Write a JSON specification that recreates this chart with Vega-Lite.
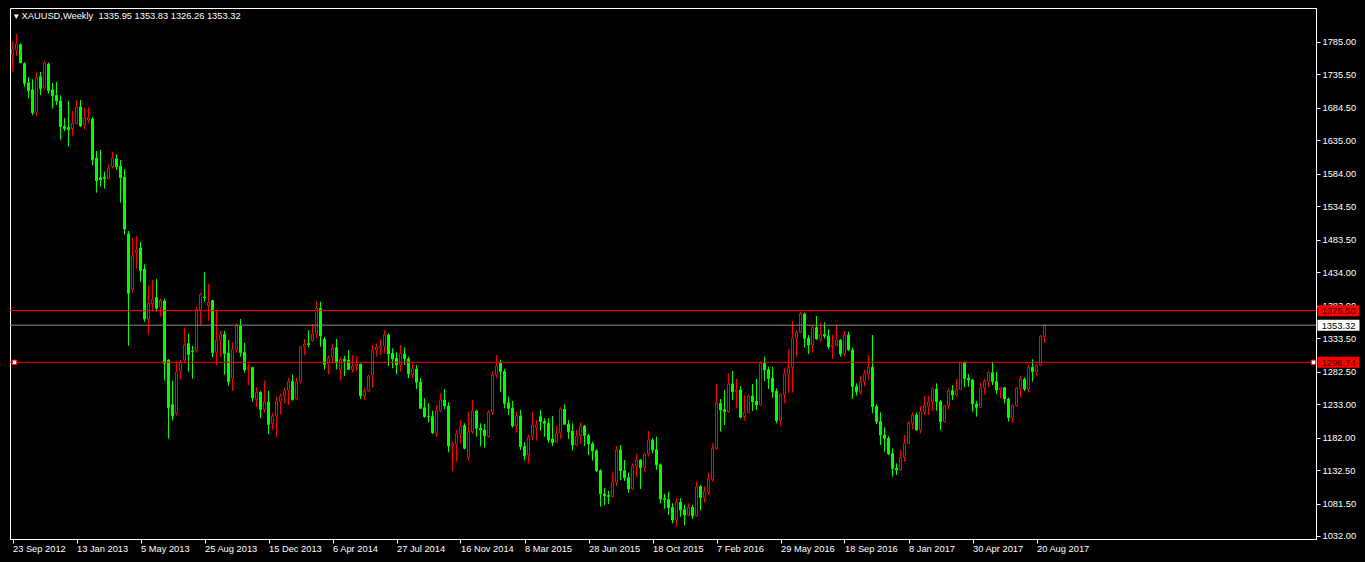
{
"$schema": "https://vega.github.io/schema/vega-lite/v6.json",
"width": 1306,
"height": 531,
"autosize": {"type": "none"},
"padding": {"left": 10, "top": 8, "right": 49, "bottom": 23},
"background": "#000000",
"title": {"text": "▾ XAUUSD,Weekly\u00a0\u00a01335.95 1353.83 1326.26 1353.32", "anchor": "start", "frame": "group", "orient": "top", "offset": -11, "baseline": "alphabetic", "dx": 4, "dy": 9, "font": "Liberation Sans", "fontSize": 9.3, "fontWeight": "normal", "color": "#FFFFFF"},
"config": {
  "view": {"stroke": "#FFFFFF", "strokeWidth": 1, "fill": "#000000"},
  "axis": {"grid": false, "domainColor": "#FFFFFF", "tickColor": "#FFFFFF", "labelColor": "#FFFFFF", "labelFont": "Liberation Sans", "labelFontSize": 9.3, "tickSize": 4, "labelOverlap": false, "labelFlush": false, "labelBound": false, "domainWidth": 1, "tickWidth": 1}
},
"datasets": {
"candles": [
{"date":"2012-09-23","open":1765.2,"high":1785.5,"low":1740,"close":1774.3},
{"date":"2012-09-30","open":1773,"high":1797.2,"low":1763.7,"close":1782},
{"date":"2012-10-07","open":1781,"high":1783,"low":1752.5,"close":1753.5},
{"date":"2012-10-14","open":1752,"high":1754,"low":1717,"close":1722},
{"date":"2012-10-21","open":1723,"high":1731.7,"low":1698.6,"close":1710.8},
{"date":"2012-10-28","open":1712,"high":1728.1,"low":1673.7,"close":1677.3},
{"date":"2012-11-04","open":1678,"high":1738.8,"low":1672.7,"close":1731.1},
{"date":"2012-11-11","open":1732,"high":1739.3,"low":1704.2,"close":1713.9},
{"date":"2012-11-18","open":1715,"high":1756,"low":1713,"close":1753},
{"date":"2012-11-25","open":1751.5,"high":1753.5,"low":1706.3,"close":1710.8},
{"date":"2012-12-02","open":1712,"high":1722.5,"low":1683.4,"close":1703.2},
{"date":"2012-12-09","open":1703.5,"high":1724,"low":1689,"close":1695.1},
{"date":"2012-12-16","open":1695.1,"high":1703.7,"low":1636.1,"close":1656},
{"date":"2012-12-23","open":1656.5,"high":1668.7,"low":1649.3,"close":1652.9},
{"date":"2012-12-30","open":1655,"high":1695.1,"low":1625.5,"close":1651.4},
{"date":"2013-01-06","open":1653,"high":1679.8,"low":1642.2,"close":1661},
{"date":"2013-01-13","open":1660.5,"high":1696.6,"low":1659.5,"close":1685.4},
{"date":"2013-01-20","open":1686,"high":1696.6,"low":1655.4,"close":1657},
{"date":"2013-01-27","open":1659.5,"high":1684.4,"low":1651.4,"close":1669.2},
{"date":"2013-02-03","open":1666.1,"high":1685.4,"low":1661,"close":1669.2},
{"date":"2013-02-10","open":1667.6,"high":1670.7,"low":1597.5,"close":1605.6},
{"date":"2013-02-17","open":1608,"high":1618.9,"low":1555.3,"close":1573.6},
{"date":"2013-02-24","open":1578,"high":1620.4,"low":1564.5,"close":1574.7},
{"date":"2013-03-03","open":1579,"high":1587.4,"low":1561.4,"close":1576.5},
{"date":"2013-03-10","open":1577,"high":1598.5,"low":1575,"close":1592.9},
{"date":"2013-03-17","open":1595,"high":1617.3,"low":1591.9,"close":1608.2},
{"date":"2013-03-24","open":1607,"high":1613.8,"low":1589.9,"close":1595},
{"date":"2013-03-31","open":1596,"high":1605.1,"low":1540.1,"close":1578.2},
{"date":"2013-04-07","open":1579.2,"high":1591.4,"low":1491.3,"close":1500},
{"date":"2013-04-14","open":1492.3,"high":1496.9,"low":1322.1,"close":1401.9},
{"date":"2013-04-21","open":1408,"high":1486.3,"low":1402.9,"close":1458.8},
{"date":"2013-04-28","open":1463.9,"high":1489.3,"low":1439.5,"close":1468},
{"date":"2013-05-05","open":1471,"high":1480.2,"low":1419.7,"close":1436.5},
{"date":"2013-05-12","open":1439,"high":1446.1,"low":1358.7,"close":1362.8},
{"date":"2013-05-19","open":1362,"high":1413.6,"low":1338.9,"close":1386.7},
{"date":"2013-05-26","open":1385.7,"high":1422.2,"low":1374,"close":1392.8},
{"date":"2013-06-02","open":1395.3,"high":1423.7,"low":1374,"close":1379.1},
{"date":"2013-06-09","open":1381,"high":1394.3,"low":1366.3,"close":1390.7},
{"date":"2013-06-16","open":1390.2,"high":1393.8,"low":1268.8,"close":1295.2},
{"date":"2013-06-23","open":1300.3,"high":1301.3,"low":1180.4,"close":1227.6},
{"date":"2013-06-30","open":1232,"high":1268.8,"low":1207.8,"close":1215.4},
{"date":"2013-07-07","open":1219,"high":1298.8,"low":1215.4,"close":1282},
{"date":"2013-07-14","open":1283,"high":1300.3,"low":1270.8,"close":1297.2},
{"date":"2013-07-21","open":1300,"high":1349.6,"low":1296,"close":1323.1},
{"date":"2013-07-28","open":1325,"high":1340.4,"low":1282.5,"close":1308.9},
{"date":"2013-08-04","open":1314,"high":1321.6,"low":1271.8,"close":1313},
{"date":"2013-08-11","open":1314,"high":1381.1,"low":1311,"close":1377.5},
{"date":"2013-08-18","open":1376.5,"high":1402.9,"low":1353.1,"close":1400.4},
{"date":"2013-08-25","open":1396.3,"high":1434.4,"low":1389.2,"close":1395.3},
{"date":"2013-09-01","open":1383,"high":1416.1,"low":1360.2,"close":1388.2},
{"date":"2013-09-08","open":1390.7,"high":1391.7,"low":1304.3,"close":1311.5},
{"date":"2013-09-15","open":1312,"high":1376.5,"low":1292.2,"close":1330.3},
{"date":"2013-09-22","open":1330.3,"high":1344.5,"low":1305.4,"close":1339.4},
{"date":"2013-09-29","open":1339,"high":1344.5,"low":1277.9,"close":1309.9},
{"date":"2013-10-06","open":1311,"high":1330.8,"low":1261.2,"close":1267.2},
{"date":"2013-10-13","open":1272.3,"high":1327.2,"low":1253,"close":1316.6},
{"date":"2013-10-20","open":1316,"high":1356.2,"low":1311.5,"close":1353.1},
{"date":"2013-10-27","open":1352,"high":1362.8,"low":1305.4,"close":1311.5},
{"date":"2013-11-03","open":1312,"high":1326.2,"low":1281,"close":1285},
{"date":"2013-11-10","open":1287.6,"high":1294.2,"low":1261.7,"close":1289.1},
{"date":"2013-11-17","open":1288.6,"high":1290.1,"low":1236.8,"close":1242.9},
{"date":"2013-11-24","open":1240.3,"high":1259.1,"low":1228.1,"close":1251},
{"date":"2013-12-01","open":1251,"high":1253,"low":1211.4,"close":1224.6},
{"date":"2013-12-08","open":1225,"high":1268.8,"low":1220,"close":1236.3},
{"date":"2013-12-15","open":1236.3,"high":1253,"low":1187,"close":1202.2},
{"date":"2013-12-22","open":1203.7,"high":1220,"low":1193.6,"close":1214.9},
{"date":"2013-12-29","open":1214.9,"high":1244.4,"low":1182.4,"close":1237.8},
{"date":"2014-01-05","open":1237,"high":1249.5,"low":1217.5,"close":1245.4},
{"date":"2014-01-12","open":1246,"high":1258.1,"low":1234.2,"close":1253.5},
{"date":"2014-01-19","open":1254,"high":1273.3,"low":1231.7,"close":1267.2},
{"date":"2014-01-26","open":1268,"high":1277.9,"low":1238.3,"close":1239.8},
{"date":"2014-02-02","open":1241,"high":1273.3,"low":1239.8,"close":1267.2},
{"date":"2014-02-09","open":1267.2,"high":1321.6,"low":1264.7,"close":1320.1},
{"date":"2014-02-16","open":1321,"high":1332.3,"low":1307.4,"close":1324.7},
{"date":"2014-02-23","open":1325.2,"high":1346,"low":1319.1,"close":1324},
{"date":"2014-03-02","open":1330,"high":1355.2,"low":1328.2,"close":1339.5},
{"date":"2014-03-09","open":1339.5,"high":1389.2,"low":1333,"close":1379.1},
{"date":"2014-03-16","open":1379,"high":1389.2,"low":1320.6,"close":1336.9},
{"date":"2014-03-23","open":1332,"high":1335.3,"low":1286.1,"close":1293.7},
{"date":"2014-03-30","open":1294,"high":1307.4,"low":1278.4,"close":1303.3},
{"date":"2014-04-06","open":1304.3,"high":1324.7,"low":1295.2,"close":1318.1},
{"date":"2014-04-13","open":1319,"high":1332.3,"low":1286.1,"close":1296.2},
{"date":"2014-04-20","open":1286,"high":1304.3,"low":1268.8,"close":1301.3},
{"date":"2014-04-27","open":1301.5,"high":1306.4,"low":1275.9,"close":1298.8},
{"date":"2014-05-04","open":1300,"high":1315.5,"low":1285,"close":1286.1},
{"date":"2014-05-11","open":1286,"high":1307.9,"low":1281,"close":1291.1},
{"date":"2014-05-18","open":1291,"high":1306,"low":1284,"close":1294},
{"date":"2014-05-25","open":1293.5,"high":1295,"low":1240.8,"close":1245.4},
{"date":"2014-06-01","open":1245.4,"high":1257.1,"low":1239.3,"close":1253},
{"date":"2014-06-08","open":1253.6,"high":1277.4,"low":1252,"close":1275.9},
{"date":"2014-06-15","open":1277.4,"high":1323.2,"low":1257.6,"close":1315.5},
{"date":"2014-06-22","open":1315,"high":1325.7,"low":1305.4,"close":1320},
{"date":"2014-06-29","open":1317,"high":1331.8,"low":1307.9,"close":1321.6},
{"date":"2014-07-06","open":1321,"high":1346,"low":1310.5,"close":1338.4},
{"date":"2014-07-13","open":1338.4,"high":1340.9,"low":1291.2,"close":1309.4},
{"date":"2014-07-20","open":1310.5,"high":1318.1,"low":1287.6,"close":1301.8},
{"date":"2014-07-27","open":1303,"high":1312,"low":1279,"close":1292.7},
{"date":"2014-08-03","open":1292.7,"high":1323.2,"low":1282.5,"close":1310.5},
{"date":"2014-08-10","open":1309.4,"high":1319.6,"low":1292.7,"close":1302.8},
{"date":"2014-08-17","open":1301.8,"high":1305.4,"low":1272.4,"close":1279},
{"date":"2014-08-24","open":1278,"high":1295.2,"low":1272.4,"close":1287.6},
{"date":"2014-08-31","open":1286.6,"high":1292.7,"low":1256.1,"close":1266.3},
{"date":"2014-09-07","open":1266.3,"high":1272.4,"low":1226,"close":1226.6},
{"date":"2014-09-14","open":1227.5,"high":1241.9,"low":1212.4,"close":1213.9},
{"date":"2014-09-21","open":1214.5,"high":1234.2,"low":1205.3,"close":1213.4},
{"date":"2014-09-28","open":1214,"high":1223.1,"low":1187.5,"close":1189.5},
{"date":"2014-10-05","open":1190,"high":1231.7,"low":1183.4,"close":1222.6},
{"date":"2014-10-12","open":1222.6,"high":1249.5,"low":1221.5,"close":1239.3},
{"date":"2014-10-19","open":1239,"high":1256.1,"low":1225.1,"close":1230.2},
{"date":"2014-10-26","open":1230,"high":1235.8,"low":1159.6,"close":1169.2},
{"date":"2014-11-02","open":1169,"high":1175.8,"low":1131.1,"close":1172.3},
{"date":"2014-11-09","open":1172,"high":1193.6,"low":1145.3,"close":1188.5},
{"date":"2014-11-16","open":1188,"high":1208.8,"low":1173.3,"close":1199.7},
{"date":"2014-11-23","open":1200,"high":1203.8,"low":1164.1,"close":1165.7},
{"date":"2014-11-30","open":1152,"high":1221.5,"low":1146.9,"close":1191.1},
{"date":"2014-12-07","open":1191,"high":1239.3,"low":1187.5,"close":1222.6},
{"date":"2014-12-14","open":1222.6,"high":1224.1,"low":1183.4,"close":1196.1},
{"date":"2014-12-21","open":1196,"high":1203.8,"low":1169.2,"close":1193.6},
{"date":"2014-12-28","open":1193.6,"high":1202.7,"low":1166.7,"close":1184.5},
{"date":"2015-01-04","open":1183.4,"high":1223.1,"low":1182.4,"close":1220.5},
{"date":"2015-01-11","open":1221,"high":1282.5,"low":1216.5,"close":1277.4},
{"date":"2015-01-18","open":1277.4,"high":1307.9,"low":1272.4,"close":1291.2},
{"date":"2015-01-25","open":1295,"high":1300.3,"low":1252,"close":1282.5},
{"date":"2015-02-01","open":1282.5,"high":1286.6,"low":1226.6,"close":1234.2},
{"date":"2015-02-08","open":1235,"high":1244.4,"low":1216.5,"close":1226.6},
{"date":"2015-02-15","open":1227,"high":1237.8,"low":1197.2,"close":1199.7},
{"date":"2015-02-22","open":1200,"high":1221.5,"low":1189.5,"close":1214.9},
{"date":"2015-03-01","open":1214.9,"high":1224.1,"low":1163.1,"close":1168.2},
{"date":"2015-03-08","open":1168.5,"high":1174.8,"low":1146.9,"close":1154.5},
{"date":"2015-03-15","open":1155.5,"high":1186,"low":1142.8,"close":1182.4},
{"date":"2015-03-22","open":1183,"high":1221.5,"low":1178.4,"close":1201.2},
{"date":"2015-03-29","open":1197.2,"high":1208.8,"low":1177.3,"close":1201.5},
{"date":"2015-04-05","open":1214,"high":1224.1,"low":1192.6,"close":1206.3},
{"date":"2015-04-12","open":1206.5,"high":1211.4,"low":1183.4,"close":1203.8},
{"date":"2015-04-19","open":1204,"high":1211.4,"low":1174.3,"close":1178.4},
{"date":"2015-04-26","open":1179.9,"high":1214.9,"low":1169.2,"close":1174.3},
{"date":"2015-05-03","open":1175,"high":1199.7,"low":1174,"close":1188.5},
{"date":"2015-05-10","open":1188.5,"high":1228.1,"low":1179.4,"close":1225.6},
{"date":"2015-05-17","open":1225,"high":1232.7,"low":1201.2,"close":1202.2},
{"date":"2015-05-24","open":1202.5,"high":1208.8,"low":1179.9,"close":1191.1},
{"date":"2015-05-31","open":1192,"high":1203.8,"low":1162.1,"close":1170.7},
{"date":"2015-06-07","open":1170.7,"high":1193.6,"low":1169.2,"close":1184.5},
{"date":"2015-06-14","open":1184.5,"high":1205.3,"low":1172.3,"close":1199.7},
{"date":"2015-06-21","open":1199.7,"high":1201.2,"low":1169.2,"close":1185},
{"date":"2015-06-28","open":1185,"high":1187.5,"low":1155.5,"close":1172.3},
{"date":"2015-07-05","open":1172.5,"high":1175.8,"low":1146.9,"close":1161.6},
{"date":"2015-07-12","open":1162,"high":1164.1,"low":1130.1,"close":1131.1},
{"date":"2015-07-19","open":1131.5,"high":1133.6,"low":1076.7,"close":1096},
{"date":"2015-07-26","open":1096,"high":1104.7,"low":1079.3,"close":1093.5},
{"date":"2015-08-02","open":1093.5,"high":1100.6,"low":1080.8,"close":1092},
{"date":"2015-08-09","open":1092,"high":1128.6,"low":1091,"close":1113.8},
{"date":"2015-08-16","open":1114,"high":1169.2,"low":1108.2,"close":1163.1},
{"date":"2015-08-23","open":1163.1,"high":1170.7,"low":1117.4,"close":1131.1},
{"date":"2015-08-30","open":1131.5,"high":1147.9,"low":1115.9,"close":1120.9},
{"date":"2015-09-06","open":1121,"high":1128.6,"low":1098.1,"close":1103.7},
{"date":"2015-09-13","open":1103.7,"high":1142.8,"low":1102.1,"close":1138.7},
{"date":"2015-09-20","open":1138.7,"high":1157,"low":1120.9,"close":1147.9},
{"date":"2015-09-27","open":1147.9,"high":1149.4,"low":1103.7,"close":1136.2},
{"date":"2015-10-04","open":1136.7,"high":1159,"low":1130.1,"close":1157},
{"date":"2015-10-11","open":1157,"high":1192.1,"low":1152.9,"close":1178.4},
{"date":"2015-10-18","open":1178.4,"high":1180.9,"low":1158,"close":1163.1},
{"date":"2015-10-25","open":1163.5,"high":1183.4,"low":1132.6,"close":1140.3},
{"date":"2015-11-01","open":1140.5,"high":1142.8,"low":1081.8,"close":1088.4},
{"date":"2015-11-08","open":1089,"high":1096,"low":1073.2,"close":1087.5},
{"date":"2015-11-15","open":1087.5,"high":1099.6,"low":1064,"close":1075.2},
{"date":"2015-11-22","open":1075.5,"high":1081.8,"low":1051.3,"close":1056.4},
{"date":"2015-11-29","open":1056.5,"high":1089.4,"low":1046.3,"close":1083.3},
{"date":"2015-12-06","open":1083.3,"high":1089.4,"low":1061.5,"close":1071.7},
{"date":"2015-12-13","open":1072,"high":1079.3,"low":1048.3,"close":1064},
{"date":"2015-12-20","open":1064,"high":1081.8,"low":1062.5,"close":1075.7},
{"date":"2015-12-27","open":1075.7,"high":1079.3,"low":1057.9,"close":1063},
{"date":"2016-01-03","open":1063,"high":1114.8,"low":1061.5,"close":1107.2},
{"date":"2016-01-10","open":1107.2,"high":1109.8,"low":1070.6,"close":1090.5},
{"date":"2016-01-17","open":1090.5,"high":1107.2,"low":1082.8,"close":1099.6},
{"date":"2016-01-24","open":1099,"high":1128.6,"low":1094.5,"close":1118.9},
{"date":"2016-01-31","open":1118.5,"high":1173.3,"low":1114.8,"close":1165.7},
{"date":"2016-02-07","open":1165.6,"high":1263.7,"low":1163.1,"close":1234.2},
{"date":"2016-02-14","open":1234.2,"high":1240.8,"low":1191,"close":1224},
{"date":"2016-02-21","open":1224.5,"high":1254.5,"low":1201.2,"close":1221.5},
{"date":"2016-02-28","open":1221.5,"high":1279.9,"low":1220,"close":1263.7},
{"date":"2016-03-06","open":1263.7,"high":1283.5,"low":1239.3,"close":1252},
{"date":"2016-03-13","open":1252,"high":1271.3,"low":1226.6,"close":1254.5},
{"date":"2016-03-20","open":1254.5,"high":1260.6,"low":1211.3,"close":1212.9},
{"date":"2016-03-27","open":1213.9,"high":1245.9,"low":1207.8,"close":1220.5},
{"date":"2016-04-03","open":1220.5,"high":1247.9,"low":1219,"close":1245.4},
{"date":"2016-04-10","open":1245.4,"high":1263.7,"low":1222.5,"close":1236.7},
{"date":"2016-04-17","open":1237.5,"high":1271.3,"low":1224,"close":1231.7},
{"date":"2016-04-24","open":1231.7,"high":1297.7,"low":1230.6,"close":1295.2},
{"date":"2016-05-01","open":1295.2,"high":1305.3,"low":1268.2,"close":1285},
{"date":"2016-05-08","open":1285.5,"high":1290.1,"low":1256,"close":1272.3},
{"date":"2016-05-15","open":1272.5,"high":1290.1,"low":1242.8,"close":1252},
{"date":"2016-05-22","open":1252.5,"high":1257.1,"low":1203.7,"close":1207.8},
{"date":"2016-05-29","open":1207.8,"high":1249.4,"low":1199.6,"close":1247.9},
{"date":"2016-06-05","open":1247.5,"high":1287.5,"low":1234.2,"close":1278.9},
{"date":"2016-06-12","open":1278.5,"high":1316.5,"low":1250.5,"close":1289.1},
{"date":"2016-06-19","open":1289.1,"high":1359.7,"low":1250.5,"close":1333.3},
{"date":"2016-06-26","open":1333.3,"high":1346,"low":1305.3,"close":1342.4},
{"date":"2016-07-03","open":1342.4,"high":1373.9,"low":1340.9,"close":1370.4},
{"date":"2016-07-10","open":1370.4,"high":1372.4,"low":1319,"close":1333.3},
{"date":"2016-07-17","open":1333.5,"high":1338.3,"low":1309.4,"close":1323.1},
{"date":"2016-07-24","open":1323.1,"high":1353.6,"low":1311.4,"close":1349.5},
{"date":"2016-07-31","open":1349.5,"high":1367.3,"low":1330.7,"close":1332.3},
{"date":"2016-08-07","open":1332.3,"high":1357.7,"low":1328.2,"close":1339.4},
{"date":"2016-08-14","open":1339.4,"high":1357.7,"low":1333.3,"close":1336.8},
{"date":"2016-08-21","open":1337,"high":1347,"low":1317,"close":1320.6},
{"date":"2016-08-28","open":1320.6,"high":1338.3,"low":1301.8,"close":1323.1},
{"date":"2016-09-04","open":1323,"high":1353.6,"low":1320.6,"close":1330.7},
{"date":"2016-09-11","open":1330.7,"high":1331.7,"low":1305.3,"close":1309.4},
{"date":"2016-09-18","open":1309.4,"high":1344.4,"low":1306.3,"close":1338.3},
{"date":"2016-09-25","open":1338.3,"high":1343.4,"low":1314.5,"close":1315.5},
{"date":"2016-10-02","open":1315.5,"high":1319,"low":1240.8,"close":1259.6},
{"date":"2016-10-09","open":1259.6,"high":1264.7,"low":1245.9,"close":1252},
{"date":"2016-10-16","open":1252,"high":1275.9,"low":1247.9,"close":1267.2},
{"date":"2016-10-23","open":1267,"high":1285,"low":1259.6,"close":1278.9},
{"date":"2016-10-30","open":1278.9,"high":1307.9,"low":1269.8,"close":1289.1},
{"date":"2016-11-06","open":1289.1,"high":1338.3,"low":1219,"close":1229.1},
{"date":"2016-11-13","open":1229.5,"high":1232.7,"low":1202.7,"close":1206.3},
{"date":"2016-11-20","open":1206.5,"high":1220.5,"low":1170.7,"close":1185.9},
{"date":"2016-11-27","open":1186,"high":1197.6,"low":1160.5,"close":1180.8},
{"date":"2016-12-04","open":1181,"high":1184.4,"low":1155.4,"close":1157},
{"date":"2016-12-11","open":1157.5,"high":1165.6,"low":1122.4,"close":1135.1},
{"date":"2016-12-18","open":1135.5,"high":1142.7,"low":1124.9,"close":1132.6},
{"date":"2016-12-25","open":1132.6,"high":1163.1,"low":1131.6,"close":1151.9},
{"date":"2017-01-01","open":1151.5,"high":1185.9,"low":1145.3,"close":1173.2},
{"date":"2017-01-08","open":1173.2,"high":1207.3,"low":1171.7,"close":1203.7},
{"date":"2017-01-15","open":1203.7,"high":1220.5,"low":1194.6,"close":1216.4},
{"date":"2017-01-22","open":1216.4,"high":1220.5,"low":1192.5,"close":1193.6},
{"date":"2017-01-29","open":1193.6,"high":1230.1,"low":1188.5,"close":1221.5},
{"date":"2017-02-05","open":1221,"high":1245.4,"low":1216.4,"close":1230.1},
{"date":"2017-02-12","open":1230,"high":1245.9,"low":1216.4,"close":1236.7},
{"date":"2017-02-19","open":1236.5,"high":1258.6,"low":1223,"close":1256},
{"date":"2017-02-26","open":1256,"high":1264.7,"low":1223,"close":1236.7},
{"date":"2017-03-05","open":1236.7,"high":1239.3,"low":1193.5,"close":1206.3},
{"date":"2017-03-12","open":1206.3,"high":1231.7,"low":1204.7,"close":1230.6},
{"date":"2017-03-19","open":1230.6,"high":1257.1,"low":1225,"close":1253.5},
{"date":"2017-03-26","open":1253.5,"high":1262.1,"low":1239.3,"close":1246.9},
{"date":"2017-04-02","open":1246.9,"high":1271.3,"low":1244.4,"close":1255.5},
{"date":"2017-04-09","open":1255.5,"high":1297.7,"low":1254.5,"close":1296.2},
{"date":"2017-04-16","open":1296.2,"high":1297.7,"low":1258.6,"close":1272.3},
{"date":"2017-04-23","open":1272.3,"high":1278.9,"low":1259.6,"close":1269.8},
{"date":"2017-04-30","open":1269.8,"high":1271.3,"low":1221.5,"close":1233.2},
{"date":"2017-05-07","open":1233.2,"high":1237.7,"low":1213.9,"close":1228.1},
{"date":"2017-05-14","open":1228.1,"high":1265.7,"low":1227,"close":1258.1},
{"date":"2017-05-21","open":1258,"high":1271.3,"low":1247.9,"close":1268.2},
{"date":"2017-05-28","open":1268,"high":1283.5,"low":1258.6,"close":1280.9},
{"date":"2017-06-04","open":1280.9,"high":1297.7,"low":1262.1,"close":1267.2},
{"date":"2017-06-11","open":1267.2,"high":1282.4,"low":1248.4,"close":1254.5},
{"date":"2017-06-18","open":1254.5,"high":1259.6,"low":1241.8,"close":1258.1},
{"date":"2017-06-25","open":1258,"high":1258,"low":1234.2,"close":1240.8},
{"date":"2017-07-02","open":1240.8,"high":1242.8,"low":1206.3,"close":1212.4},
{"date":"2017-07-09","open":1212.4,"high":1232.7,"low":1204.7,"close":1230.6},
{"date":"2017-07-16","open":1230.6,"high":1258.6,"low":1229.1,"close":1257.1},
{"date":"2017-07-23","open":1257.1,"high":1275.9,"low":1242.8,"close":1270.8},
{"date":"2017-07-30","open":1270.8,"high":1273.8,"low":1253,"close":1256},
{"date":"2017-08-06","open":1256,"high":1292.6,"low":1250.5,"close":1289.1},
{"date":"2017-08-13","open":1289.1,"high":1301.3,"low":1267.2,"close":1282.5},
{"date":"2017-08-20","open":1282.5,"high":1294.1,"low":1275.9,"close":1292.6},
{"date":"2017-08-27","open":1292.6,"high":1338.3,"low":1291.1,"close":1335.9},
{"date":"2017-09-03","open":1335.95,"high":1353.83,"low":1326.26,"close":1353.32}
],
"levels": [
{"price": 1375.5, "label": "1375.50", "kind": "line"},
{"price": 1353.32, "label": "1353.32", "kind": "bid"},
{"price": 1296.74, "label": "1296.74", "kind": "line"}
]
},
"layer": [
{
 "data": {"name": "candles"},
 "mark": {"type": "rule", "strokeWidth": 1},
 "encoding": {
  "x": {"field": "date", "type": "temporal",
   "scale": {"type": "utc", "padding": 0, "domain": [{"year": 2012, "month": 9, "date": 18, "hours": 15, "utc": true}, {"year": 2018, "month": 12, "date": 22, "hours": 3, "utc": true}]},
   "axis": {"title": null, "orient": "bottom", "format": "%-d %b %Y", "labelAlign": "left", "labelBaseline": "alphabetic", "labelPadding": 8.7, "labelOverlap": false, "tickCount": 40,
    "values": [
     {"year": 2012, "month": 9, "date": 23, "utc": true},
     {"year": 2013, "month": 1, "date": 13, "utc": true},
     {"year": 2013, "month": 5, "date": 5, "utc": true},
     {"year": 2013, "month": 8, "date": 25, "utc": true},
     {"year": 2013, "month": 12, "date": 15, "utc": true},
     {"year": 2014, "month": 4, "date": 6, "utc": true},
     {"year": 2014, "month": 7, "date": 27, "utc": true},
     {"year": 2014, "month": 11, "date": 16, "utc": true},
     {"year": 2015, "month": 3, "date": 8, "utc": true},
     {"year": 2015, "month": 6, "date": 28, "utc": true},
     {"year": 2015, "month": 10, "date": 18, "utc": true},
     {"year": 2016, "month": 2, "date": 7, "utc": true},
     {"year": 2016, "month": 5, "date": 29, "utc": true},
     {"year": 2016, "month": 9, "date": 18, "utc": true},
     {"year": 2017, "month": 1, "date": 8, "utc": true},
     {"year": 2017, "month": 4, "date": 30, "utc": true},
     {"year": 2017, "month": 8, "date": 20, "utc": true}
    ]}},
  "y": {"field": "low", "type": "quantitative",
   "scale": {"domain": [1027.4, 1836.8], "nice": false, "zero": false, "padding": 0},
   "axis": {"title": null, "orient": "right", "format": ".2f", "labelBaseline": "middle", "labelPadding": 2, "labelOverlap": false, "tickCount": 40,
    "values": [1785, 1735.5, 1684.5, 1635, 1584, 1534.5, 1483.5, 1434, 1383, 1333.5, 1282.5, 1233, 1182, 1132.5, 1081.5, 1032]}},
  "y2": {"field": "high"},
  "color": {"condition": {"test": "datum.close >= datum.open", "value": "#FF0000"}, "value": "#00FF00"}
 }
},
{
 "data": {"name": "candles"},
 "mark": {"type": "bar", "width": 2, "strokeWidth": 1},
 "encoding": {
  "x": {"field": "date", "type": "temporal", "axis": {"title": null}},
  "y": {"field": "open", "type": "quantitative", "axis": {"title": null}},
  "y2": {"field": "close"},
  "fill": {"condition": {"test": "datum.close >= datum.open", "value": "#000000"}, "value": "#00FF00"},
  "stroke": {"condition": {"test": "datum.close >= datum.open", "value": "#FF0000"}, "value": "#00FF00"}
 }
},
{
 "data": {"name": "levels"},
 "mark": {"type": "rule", "strokeWidth": 1},
 "encoding": {
  "y": {"field": "price", "type": "quantitative", "axis": {"title": null}},
  "color": {"condition": {"test": "datum.kind === 'bid'", "value": "#8C8C8C"}, "value": "#FF0000"}
 }
},
{
 "data": {"name": "levels"},
 "mark": {"type": "point", "shape": "M-1,-0.262H1V0.262H-1Z", "size": 1764, "filled": true, "opacity": 1, "strokeWidth": 0},
 "encoding": {
  "x": {"datum": {"year": 2019, "month": 1, "date": 30, "hours": 12, "utc": true}, "type": "temporal", "axis": {"title": null}},
  "y": {"field": "price", "type": "quantitative", "axis": {"title": null}},
  "fill": {"condition": {"test": "datum.kind === 'bid'", "value": "#FFFFFF"}, "value": "#FF0000"}
 }
},
{
 "data": {"name": "levels"},
 "mark": {"type": "text", "font": "Liberation Sans", "fontSize": 9.3, "align": "center", "baseline": "middle", "dy": 0.5},
 "encoding": {
  "x": {"datum": {"year": 2019, "month": 1, "date": 30, "hours": 12, "utc": true}, "type": "temporal", "axis": {"title": null}},
  "y": {"field": "price", "type": "quantitative", "axis": {"title": null}},
  "text": {"field": "label"},
  "color": {"condition": {"test": "datum.kind === 'bid'", "value": "#000000"}, "value": "#3A0000"}
 }
},
{
 "data": {"values": [{}]},
 "mark": {"type": "point", "shape": "square", "size": 20, "filled": true, "fill": "#FFFFFF", "stroke": "#FF0000", "strokeWidth": 1, "opacity": 1},
 "encoding": {
  "x": {"datum": {"year": 2012, "month": 9, "date": 26, "hours": 12, "utc": true}, "type": "temporal", "axis": {"title": null}},
  "y": {"datum": 1296.74, "type": "quantitative", "axis": {"title": null}}
 }
},
{
 "data": {"values": [{}]},
 "mark": {"type": "point", "shape": "square", "size": 20, "filled": true, "fill": "#FFFFFF", "stroke": "#FF0000", "strokeWidth": 1, "opacity": 1},
 "encoding": {
  "x": {"datum": {"year": 2018, "month": 12, "date": 17, "hours": 18, "utc": true}, "type": "temporal", "axis": {"title": null}},
  "y": {"datum": 1296.74, "type": "quantitative", "axis": {"title": null}}
 }
}
]
}
